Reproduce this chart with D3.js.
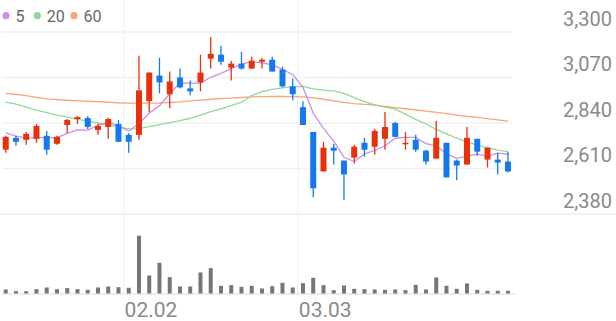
<!DOCTYPE html>
<html>
<head>
<meta charset="utf-8">
<script src="https://cdn.jsdelivr.net/npm/d3@7"></script>
<style>
  body { margin: 0; background: #fff; }
  svg { display: block; font-family: Roboto, sans-serif; }
</style>
</head>
<body>
<svg width="616" height="321"></svg>
<script>
// trading days (mm.dd)
const dates = ['01.15','01.16','01.19','01.20','01.21','01.22','01.23','01.26','01.27','01.28','01.29','01.30',
  '02.02','02.03','02.04','02.05','02.06','02.09','02.10','02.11','02.12','02.13','02.19','02.20','02.23','02.24','02.25','02.26','02.27',
  '03.03','03.04','03.05','03.06','03.09','03.10','03.11','03.12','03.13','03.16','03.17','03.18','03.19','03.20','03.23','03.24','03.25','03.26','03.27','03.30','03.31'];

const open  = [2705,2765,2755,2760,2775,2735,2830,2860,2865,2805,2820,2835,2780,2780,2950,3080,2985,3070,3015,3045,3165,3185,3120,3140,3115,3150,3160,3110,3025,2920,2795,2595,2715,2650,2665,2740,2720,2760,2840,2735,2755,2700,2660,2740,2650,2630,2760,2655,2655,2645];
const high  = [2775,2775,2795,2835,2800,2775,2860,2875,2875,2835,2865,2855,2790,3180,3095,3170,3100,3115,3055,3185,3275,3230,3155,3200,3175,3170,3175,3125,3065,2950,2795,2745,2735,2650,2730,2765,2810,2895,2845,2795,2780,2705,2850,2740,2655,2820,2760,2715,2690,2695];
const low   = [2690,2725,2730,2740,2680,2730,2790,2835,2810,2780,2760,2745,2690,2755,2895,2990,2915,3015,2980,3000,3115,3135,3055,3110,3115,3115,3100,3020,2955,2830,2465,2595,2630,2450,2635,2670,2680,2705,2770,2705,2695,2630,2660,2565,2550,2630,2675,2615,2580,2590];
const close = [2770,2745,2785,2825,2705,2770,2855,2870,2820,2825,2860,2745,2745,3005,3095,3045,3050,3020,3000,3095,3190,3150,3140,3115,3155,3160,3100,3025,2985,2830,2510,2715,2700,2580,2720,2705,2800,2820,2770,2740,2705,2645,2765,2565,2625,2765,2695,2715,2640,2595];

// moving averages
const ma5  = [2790,2774,2764,2766,2766,2766,2788,2805,2804,2828,2846,2824,2799,2836,2890,2927,2988,3043,3042,3042,3071,3091,3115,3138,3150,3144,3134,3111,3085,3020,2890,2813,2748,2667,2645,2684,2701,2725,2763,2767,2767,2736,2725,2684,2661,2673,2683,2673,2688,2682];
const ma20 = [2945,2935,2920,2905,2893,2880,2870,2858,2850,2840,2830,2820,2810,2812,2822,2832,2842,2852,2864,2880,2897,2912,2928,2945,2978,2998,3010,3018,3024,3025,3012,3006,3002,2990,2968,2948,2932,2920,2910,2885,2858,2835,2808,2785,2763,2745,2728,2715,2703,2695];
const ma60 = [2990,2985,2978,2970,2962,2958,2955,2952,2950,2948,2945,2942,2940,2940,2940,2941,2944,2947,2952,2956,2960,2963,2966,2969,2972,2973,2974,2974,2973,2972,2967,2960,2952,2944,2938,2934,2930,2924,2918,2912,2906,2900,2894,2887,2880,2874,2868,2862,2856,2850];

// volume (thousand shares)
const volume = [120,70,70,130,180,130,160,130,110,180,210,190,170,1730,540,920,490,210,210,630,760,230,250,200,230,150,220,320,180,310,470,250,100,240,140,130,120,110,120,100,260,120,480,230,140,300,110,80,80,80];

const priceTicks = [2380, 2610, 2840, 3070, 3300];
const dateTicks = ['02.02', '03.03'];
const maNames = ['5', '20', '60'];
const maColors = ['#cf8ee9', '#8ed99a', '#f7a477'];

const upColor = '#e8300b';
const downColor = '#1478f0';

const svg = d3.select('svg');

const x = d3.scaleBand()
  .domain(dates)
  .range([0.6, 513.1])
  .padding(0);
const cx = (d) => x(d) + x.bandwidth() / 2;

const y = d3.scaleLinear()
  .domain([2380, 3300])
  .range([214, 32]);

const yVol = d3.scaleLinear()
  .domain([0, d3.max(volume)])
  .range([293.5, 235.7]);

// grid
svg.append('g')
  .attr('class', 'grid')
  .selectAll('line')
  .data(priceTicks.slice(1))
  .enter().append('line')
  .attr('x1', 2).attr('x2', 512)
  .attr('y1', (d) => y(d)).attr('y2', (d) => y(d))
  .attr('stroke', '#f0f0f0')
  .attr('stroke-width', 1.5);

svg.append('g')
  .selectAll('line')
  .data(dateTicks)
  .enter().append('line')
  .attr('x1', (d) => x(d)).attr('x2', (d) => x(d))
  .attr('y1', 0).attr('y2', 294)
  .attr('stroke', '#f2f2f2')
  .attr('stroke-width', 1.2);

// separator between price and volume panes
svg.append('line')
  .attr('x1', 0).attr('x2', 616)
  .attr('y1', y(2380)).attr('y2', y(2380))
  .attr('stroke', '#ececec')
  .attr('stroke-width', 1.5);

svg.append('line')
  .attr('x1', 2).attr('x2', 516)
  .attr('y1', yVol(0) + 0.5).attr('y2', yVol(0) + 0.5)
  .attr('stroke', '#e8e8e8')
  .attr('stroke-width', 1.5);

// y labels on the right
svg.append('g')
  .selectAll('text')
  .data(priceTicks)
  .enter().append('text')
  .attr('x', 612)
  .attr('y', (d) => y(d) - 6.5)
  .attr('text-anchor', 'end')
  .attr('fill', '#8a8a8a')
  .style('font-size', '20px')
  .text((d) => d3.format(',')(d));

// x labels
svg.append('g')
  .selectAll('text')
  .data(dateTicks)
  .enter().append('text')
  .attr('x', (d) => x(d) + 1)
  .attr('y', 316.5)
  .attr('fill', '#8a8a8a')
  .style('font-size', '21px')
  .text((d) => d);

// moving averages
const maData = [ma5, ma20, ma60];
const line = d3.line()
  .x((d, i) => cx(dates[i]))
  .y((d) => y(d));

svg.append('g')
  .selectAll('path')
  .data(maData.slice().reverse())
  .enter().append('path')
  .attr('d', line)
  .attr('fill', 'none')
  .attr('stroke', (d, i) => maColors[2 - i])
  .attr('stroke-width', 1.3);

// candles
const idx = d3.range(dates.length);
const candles = svg.append('g')
  .selectAll('g')
  .data(idx)
  .enter().append('g');

candles.append('line')
  .attr('x1', (i) => cx(dates[i])).attr('x2', (i) => cx(dates[i]))
  .attr('y1', (i) => y(high[i])).attr('y2', (i) => y(low[i]))
  .attr('stroke', (i) => close[i] >= open[i] ? upColor : downColor)
  .attr('stroke-width', 1.3);

candles.append('rect')
  .attr('x', (i) => cx(dates[i]) - 3)
  .attr('width', 6)
  .attr('y', (i) => y(Math.max(open[i], close[i])))
  .attr('height', (i) => Math.max(1.5, Math.abs(y(open[i]) - y(close[i]))))
  .attr('fill', (i) => close[i] >= open[i] ? upColor : downColor);

// volume bars
svg.append('g')
  .selectAll('rect')
  .data(volume)
  .enter().append('rect')
  .attr('x', (d, i) => cx(dates[i]) - 2)
  .attr('width', 4)
  .attr('y', (d) => yVol(d))
  .attr('height', (d) => yVol(0) - yVol(d))
  .attr('fill', '#767676');

// legend
const legend = svg.append('g')
  .selectAll('g')
  .data(maNames)
  .enter().append('g');

const legendX = [6, 37.3, 74];
legend.append('circle')
  .attr('cx', (d, i) => legendX[i])
  .attr('cy', 15.7)
  .attr('r', 3.6)
  .attr('fill', (d, i) => maColors[i]);

legend.append('text')
  .attr('x', (d, i) => legendX[i] + 9.5)
  .attr('y', 21.5)
  .attr('fill', '#666')
  .style('font-size', '16px')
  .text((d) => d);
</script>
</body>
</html>
